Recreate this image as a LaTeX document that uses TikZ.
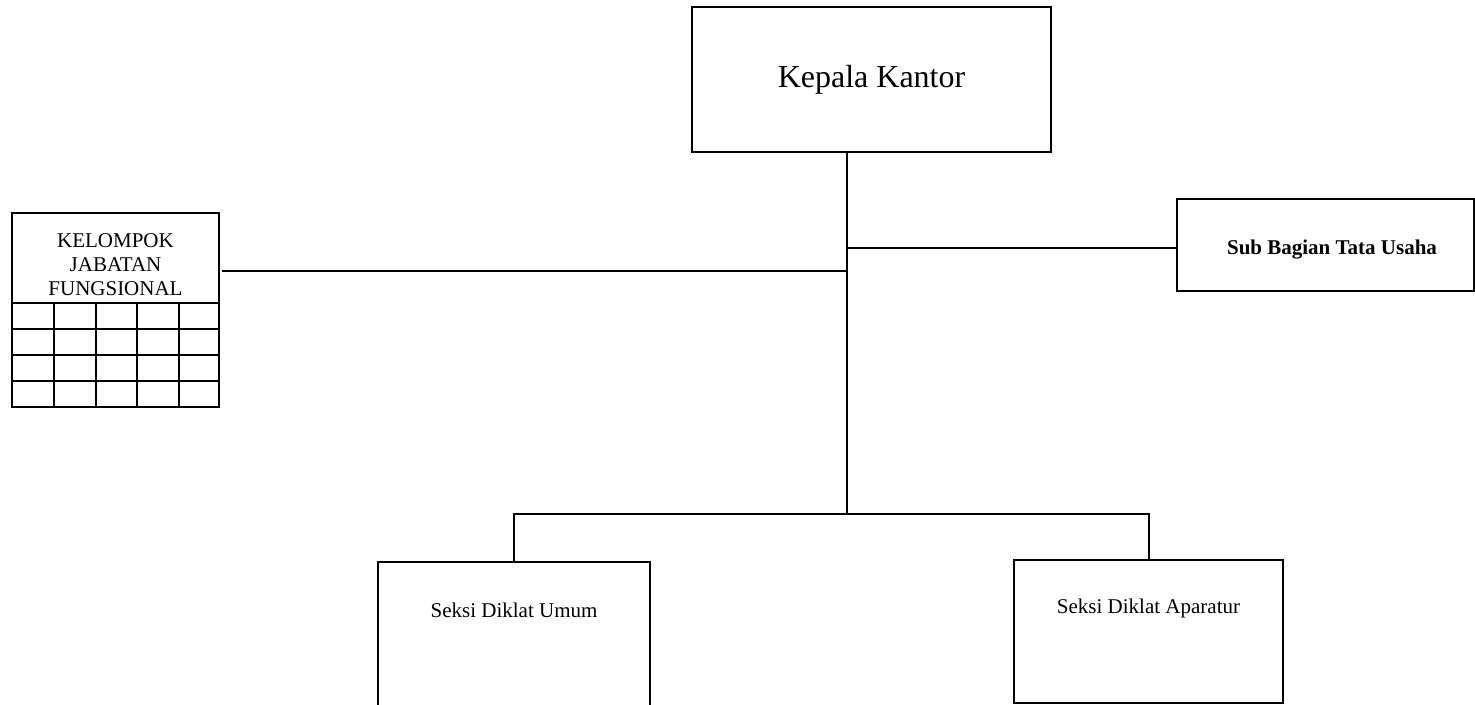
\documentclass[tikz,border=0pt]{standalone}
\usepackage{fontspec}
\setmainfont{Liberation Serif}
\begin{document}
\begin{tikzpicture}[x=0.5pt,y=-0.5pt,
  box/.style={draw, line width=1pt, rectangle, inner sep=0pt, outer sep=0pt},
  link/.style={draw, line width=1pt},
  small/.style={font=\fontsize{10.5}{12}\selectfont}]
\useasboundingbox (0,0) rectangle (1475,705);
\clip (0,0) rectangle (1475,705);

% head of office
\node[box, minimum width=179.5pt, minimum height=72.5pt,
      font=\fontsize{16}{19}\selectfont] (kepala) at (871.5,79.5) {Kepala Kantor};

% functional group: title box with a table below it
\node[box, minimum width=103.5pt, minimum height=45pt] (kjf) at (115.5,258) {};
\node[small, align=center] (kjftext) at (115.5,264.5) {KELOMPOK\\JABATAN\\FUNGSIONAL};
\node[box, minimum width=103.5pt, minimum height=52pt, anchor=north] (grid) at (kjf.south) {};
\foreach \gy in {329,355,381} \draw[line width=1pt] (12,\gy) -- (219,\gy);
\foreach \gx in {54,96,137,179} \draw[line width=1pt] (\gx,303) -- (\gx,407);

% administration sub-division
\node[box, minimum width=148.5pt, minimum height=46pt] (sub) at (1325.5,245) {};
\node[anchor=base, font=\bfseries\fontsize{10.5}{12}\selectfont] (subtext) at (1332,255) {Sub Bagian Tata Usaha};

% sections
\node[box, minimum width=136pt, minimum height=90pt, anchor=north] (umum) at (514,562) {};
\node[small, anchor=base] (umumtext) at (514,617) {Seksi Diklat Umum};
\node[box, minimum width=134.5pt, minimum height=71.5pt, anchor=north] (apar) at (1148.5,560) {};
\node[small, anchor=base] (apartext) at (1148.5,613) {Seksi Diklat Aparatur};

% connectors
\coordinate (j0) at (847,514);
\coordinate (jsub) at (847,248);
\coordinate (jkjf) at (847,271);
\draw[link] (kepala.south -| j0) -- (j0);
\draw[link] (jsub) -- (jsub -| sub.west);
\draw[link] (jkjf) -- ([xshift=1.5pt]jkjf -| kjf.east);
\draw[link] (umum.north) |- (apar.north |- j0) -- (apar.north);
\end{tikzpicture}
\end{document}
